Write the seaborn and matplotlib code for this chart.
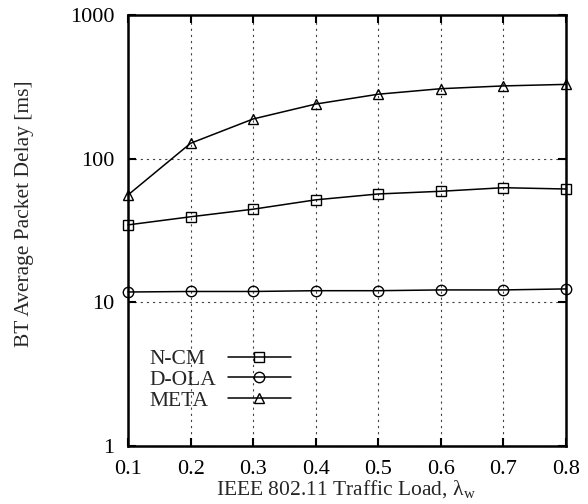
import numpy as np
import pandas as pd
import matplotlib
matplotlib.use("Agg")
import matplotlib.pyplot as plt
import seaborn as sns
from matplotlib.ticker import FixedLocator, NullLocator

load = [0.1, 0.2, 0.3, 0.4, 0.5, 0.6, 0.7, 0.8]
ncm = [34.6, 39.4, 44.5, 51.7, 56.8, 59.3, 62.8, 61.5]
dola = [11.8, 11.9, 11.9, 12.05, 12.05, 12.2, 12.2, 12.4]
meta = [55.9, 128, 189, 240, 281, 307, 321, 329]
series_names = ["N-CM", "D-OLA", "META"]
x_ticks = [0.1, 0.2, 0.3, 0.4, 0.5, 0.6, 0.7, 0.8]
y_ticks = [1, 10, 100, 1000]

sns.set_theme(style="ticks")
plt.rcParams["font.family"] = ["Liberation Serif", "DejaVu Serif"]
plt.rcParams["mathtext.fontset"] = "custom"
plt.rcParams["mathtext.rm"] = "Liberation Serif"

fig = plt.figure(figsize=(5.88, 5.04), dpi=100)
ax = fig.add_axes([0.2177, 0.1151, 0.7449, 0.8551])

df = pd.DataFrame({
    "load": load * 3,
    "delay": ncm + dola + meta,
    "scheme": [series_names[0]] * 8 + [series_names[1]] * 8 + [series_names[2]] * 8,
})

markers = {"N-CM": "s", "D-OLA": "o", "META": "^"}
for name in series_names:
    sub = df[df["scheme"] == name]
    sns.lineplot(data=sub, x="load", y="delay", ax=ax, color="black", lw=1.1,
                 marker=markers[name], markersize=7.5, markerfacecolor="none",
                 markeredgecolor="black", markeredgewidth=1.0, label=name,
                 clip_on=False, zorder=3)

ax.set_yscale("log")
ax.set_xlim(0.1, 0.8)
ax.set_ylim(1, 1000)
ax.xaxis.set_major_locator(FixedLocator(x_ticks))
ax.yaxis.set_major_locator(FixedLocator(y_ticks))
ax.yaxis.set_minor_locator(NullLocator())
ax.set_xticklabels([f"{v:g}" for v in x_ticks])
ax.set_yticklabels([f"{v:d}" for v in y_ticks])
ax.grid(True, which="major", color="#444444", linestyle=(0, (2, 3.5)), lw=0.8)
ax.tick_params(direction="in", length=6, width=1.5, top=True, right=True,
               labelsize=16, pad=10, colors="black")
for s in ax.spines.values():
    s.set_linewidth(1.8)
    s.set_color("black")
    s.set_visible(True)

ax.set_xlabel("IEEE 802.11 Traffic Load, λ$_{\\rm w}$", fontsize=15.5)
ax.set_ylabel("BT Average Packet Delay [ms]", fontsize=15.5)
ax.xaxis.set_label_coords(0.498, -0.075)
ax.yaxis.set_label_coords(-0.215, 0.54)

leg = ax.legend(loc="lower left", bbox_to_anchor=(0.005, 0.037), frameon=False,
                markerfirst=False, fontsize=15.5, handlelength=2.9,
                labelspacing=0.03, handletextpad=0.55)

# left-align legend labels while keeping the sample lines aligned
renderer = fig.canvas.get_renderer()
widths = [t.get_window_extent(renderer).width for t in leg.get_texts()]
wmax = max(widths)
pts_per_px = 72.0 / fig.dpi
col = leg._legend_handle_box.get_children()[0]
col.align = "left"
for row, w in zip(col.get_children(), widths):
    row.sep = row.sep + (wmax - w) * pts_per_px

fig.savefig("out.png", dpi=100)
